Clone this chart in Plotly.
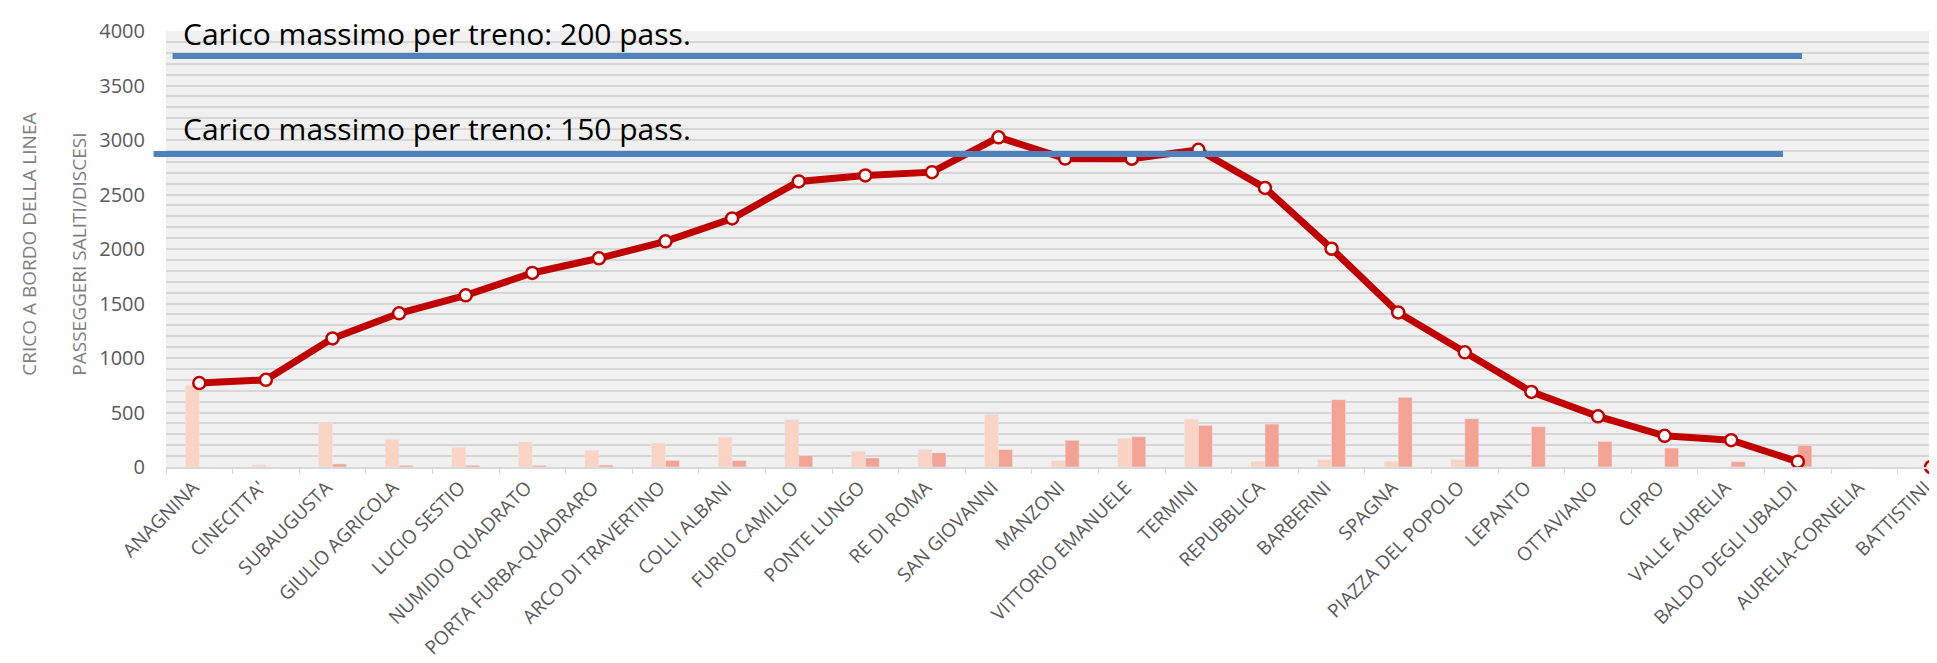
import plotly.graph_objects as go

# stazioni linea A
stazioni = ['ANAGNINA', "CINECITTA'", 'SUBAUGUSTA', 'GIULIO AGRICOLA',
            'LUCIO SESTIO', 'NUMIDIO QUADRATO', 'PORTA FURBA-QUADRARO',
            'ARCO DI TRAVERTINO', 'COLLI ALBANI', 'FURIO CAMILLO',
            'PONTE LUNGO', 'RE DI ROMA', 'SAN GIOVANNI', 'MANZONI',
            'VITTORIO EMANUELE', 'TERMINI', 'REPUBBLICA', 'BARBERINI',
            'SPAGNA', 'PIAZZA DEL POPOLO', 'LEPANTO', 'OTTAVIANO', 'CIPRO',
            'VALLE AURELIA', 'BALDO DEGLI UBALDI', 'AURELIA-CORNELIA',
            'BATTISTINI']

# passeggeri saliti / discesi per stazione
saliti = [750, 20, 405, 255, 180, 230, 155, 220, 275, 435, 145, 160, 480,
          58, 265, 440, 52, 70, 52, 70, 0, 0, 0, 0, 0, 0, 0]
discesi = [0, 0, 28, 15, 15, 15, 18, 60, 60, 105, 83, 130, 160, 245, 278,
           382, 394, 618, 639, 443, 370, 235, 174, 49, 199, 0, 0]

# carico a bordo della linea
carico = [770, 800, 1180, 1410, 1575, 1780, 1915, 2070, 2280, 2620, 2675,
          2705, 3025, 2830, 2828, 2910, 2560, 2003, 1418, 1052, 689, 465,
          286, 246, 49, None, 0]

# carico massimo (200 e 150 pass. per treno)
carico_200 = 3770
carico_150 = 2872

# colori
rosso = '#C00000'
chiaro = '#F9D3C4'
scuro = '#F4A293'
blu = '#4F81BD'
grigio = '#595959'

fig = go.Figure()
fig.add_bar(x=stazioni, y=saliti, name='Saliti', marker_color=chiaro)
fig.add_bar(x=stazioni, y=discesi, name='Discesi', marker_color=scuro)
fig.add_scatter(x=stazioni, y=carico, name='Carico',
                mode='lines+markers', connectgaps=False, cliponaxis=False,
                line=dict(color=rosso, width=7),
                marker=dict(size=12, color='white',
                            line=dict(color=rosso, width=2.5)))

# linee di carico massimo
fig.add_shape(type='line', xref='paper', yref='y', x0=0.0037, x1=0.9196,
              y0=carico_200, y1=carico_200, line=dict(color=blu, width=6))
fig.add_shape(type='line', xref='paper', yref='y', x0=-0.007, x1=0.9089,
              y0=carico_150, y1=carico_150, line=dict(color=blu, width=6))

testo = dict(xref='paper', yref='paper', showarrow=False, xanchor='left',
             yanchor='middle', font=dict(size=30, color='black'))
fig.add_annotation(text='Carico massimo per treno: 200 pass.',
                   x=0.0082, y=0.994, **testo)
fig.add_annotation(text='Carico massimo per treno: 150 pass.',
                   x=0.0082, y=0.7766, **testo)

# titoli asse y
titolo = dict(xref='paper', yref='paper', showarrow=False, textangle=-90,
              xanchor='center', yanchor='bottom',
              font=dict(size=19, color='#7F7F7F'))
fig.add_annotation(text='CRICO A BORDO DELLA LINEA', x=-0.0767, y=0.205,
                   **titolo)
fig.add_annotation(text='PASSEGGERI SALITI/DISCESI', x=-0.0486, y=0.205,
                   **titolo)

fig.update_layout(
    width=1937, height=663,
    margin=dict(l=158.4, r=0, t=23, b=203.5),
    barmode='group', bargap=0.58, bargroupgap=0,
    showlegend=False,
    paper_bgcolor='white', plot_bgcolor='#F0F0F0',
    font=dict(family='Open Sans', color=grigio))
fig.update_xaxes(
    type='category', range=[-0.5, 26.21], tickangle=-45,
    ticks='outside', tickson='boundaries', ticklen=5, tickcolor='#D9D9D9',
    showline=True, linecolor='#D9D9D9', linewidth=2, showgrid=False,
    ticklabelshift=-6,
    tickfont=dict(size=19, color=grigio))
fig.update_yaxes(
    range=[0, 4000], dtick=500, zeroline=False, ticklabelstandoff=20,
    tickfont=dict(size=20, color=grigio),
    gridcolor='#D6D6D6', gridwidth=2,
    minor=dict(dtick=100, showgrid=True, gridcolor='#D6D6D6', gridwidth=2))

fig.write_html('out.html')
